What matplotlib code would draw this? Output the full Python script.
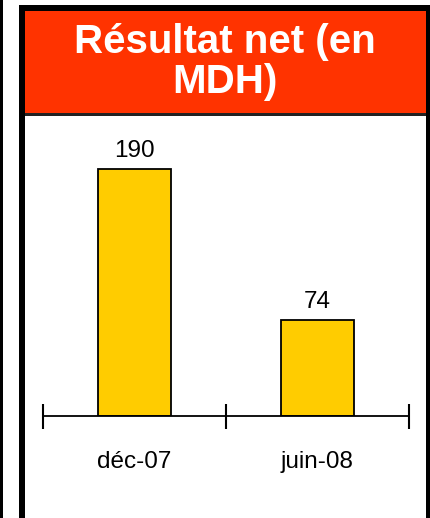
import matplotlib.pyplot as plt
from matplotlib.patches import Rectangle

# données
periodes = ['déc-07', 'juin-08']
resultat = [190, 74]
titre = 'Résultat net (en\nMDH)'

W, H = 430, 518
fig = plt.figure(figsize=(W / 100, H / 100), dpi=100)
fig.patch.set_facecolor('white')

def px(x0, y0, x1, y1):
    # rectangle en pixels (origine en haut à gauche) -> coordonnées figure
    return (x0 / W, 1 - y1 / H), (x1 - x0) / W, (y1 - y0) / H

# cadre
for (x0, y0, x1, y1, c) in [(0, 0, 3, 518, 'black'),
                            (19, 5, 430, 518, 'black'),
                            (25, 11, 426, 518, 'white'),
                            (25, 11, 426, 113, '#FF3300'),
                            (25, 113, 426, 115.5, '#222222')]:
    xy, w, h = px(x0, y0, x1, y1)
    fig.patches.append(Rectangle(xy, w, h, transform=fig.transFigure,
                                 facecolor=c, edgecolor='none', zorder=0))

fig.text(225 / W, 1 - 62 / H, titre, ha='center', va='center', color='white',
         fontsize=29, fontweight='bold', family='Liberation Sans', linespacing=1.07,
         zorder=3)

# graphique
ax = fig.add_axes([43 / W, 1 - 416 / H, 366 / W, 286 / H])
ax.set_zorder(2)
ax.patch.set_alpha(0)
x = range(len(periodes))
bars = ax.bar(x, resultat, width=0.4, color='#FFCC00', edgecolor='black', linewidth=1.3)
ax.set_xlim(-0.5, 1.5)
ax.set_ylim(0, 220)
for s in ['top', 'left', 'right']:
    ax.spines[s].set_visible(False)
ax.spines['bottom'].set_linewidth(1.3)
ax.set_yticks([])
ax.set_xticks([-0.5, 0.5, 1.5])
ax.set_xticklabels([])
ax.tick_params(axis='x', which='major', direction='inout', length=18, width=1.5)
ax.set_xticks(list(x), minor=True)
ax.set_xticklabels(periodes, minor=True, fontsize=17.5, family='Liberation Sans')
ax.tick_params(axis='x', which='minor', length=0, pad=25)
for b, v in zip(bars, resultat):
    ax.annotate(str(v), (b.get_x() + b.get_width() / 2, v), xytext=(0, 8.5),
                textcoords='offset points', ha='center', va='baseline',
                fontsize=17.5, family='Liberation Sans')

fig.savefig('out.png', dpi=100)
